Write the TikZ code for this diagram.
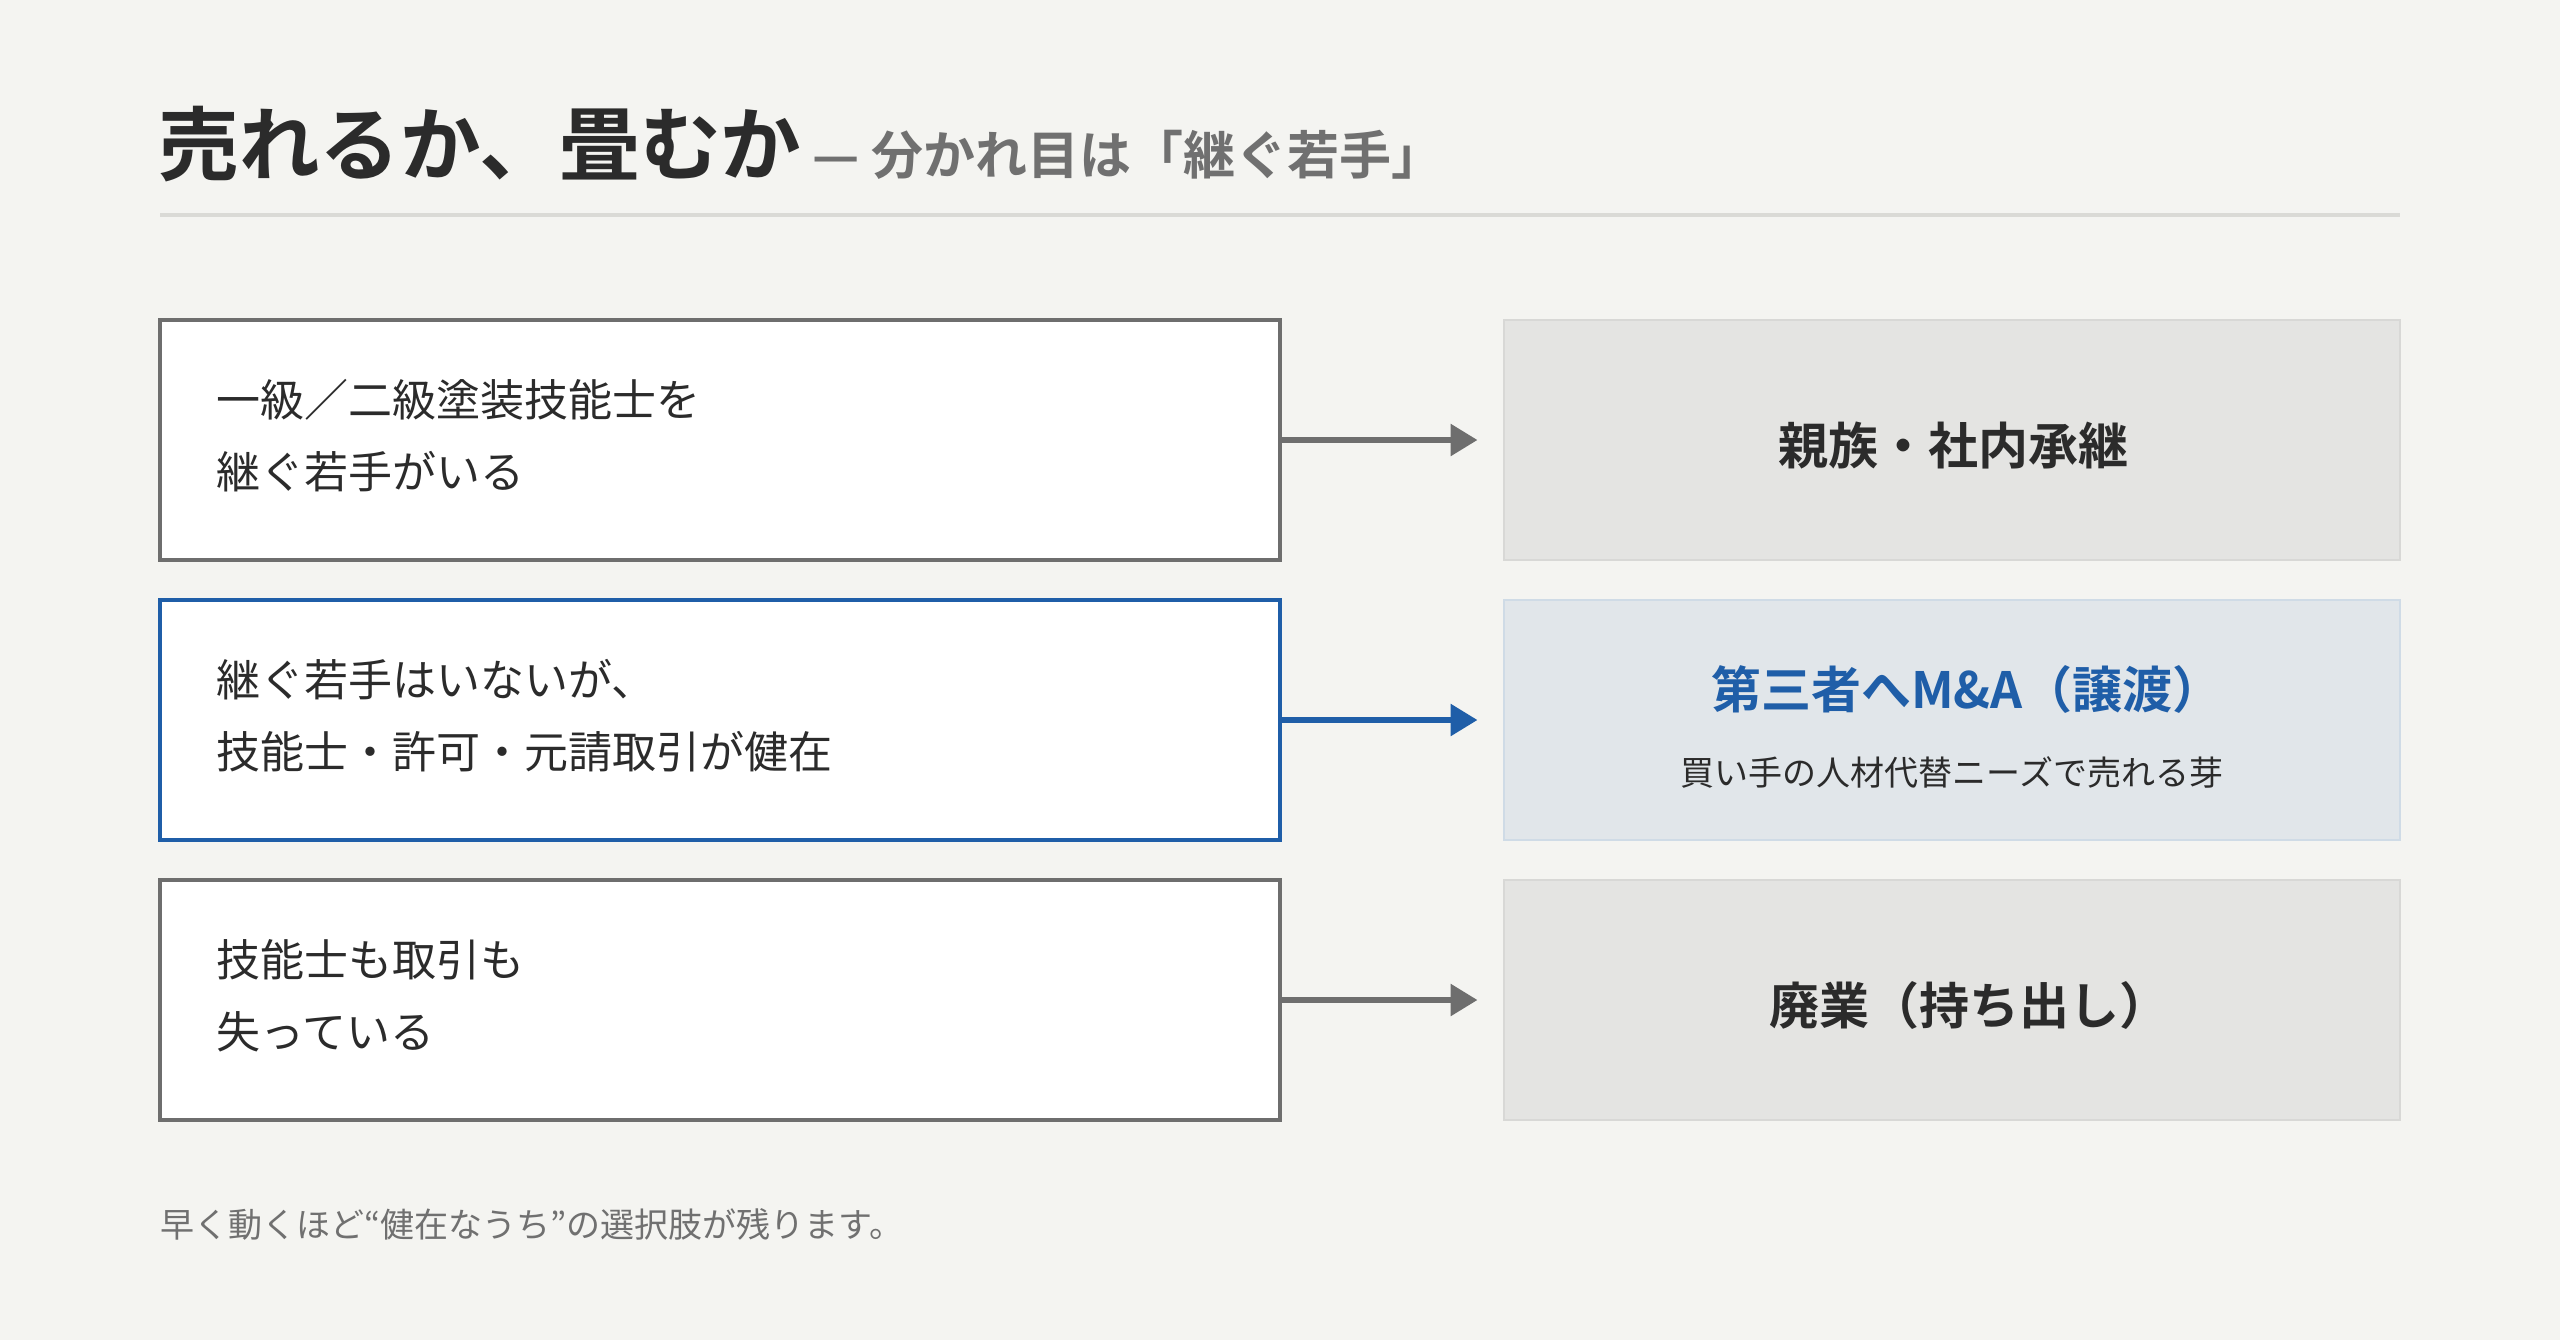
\documentclass[tikz,border=0pt]{standalone}
\usepackage{fontspec}
\setmainfont{Noto Sans CJK JP}[BoldFont={* Bold}]
\usetikzlibrary{arrows.meta}

\definecolor{bg}{HTML}{F4F4F1}
\definecolor{ink}{HTML}{2B2B2B}
\definecolor{mute}{HTML}{707070}
\definecolor{rule}{HTML}{DADAD6}
\definecolor{edge}{HTML}{6E6E6E}
\definecolor{accent}{HTML}{1F5EA8}
\definecolor{outfill}{HTML}{E4E4E2}
\definecolor{outline}{HTML}{D8D8D6}
\definecolor{keyfill}{HTML}{E1E6EA}
\definecolor{keyline}{HTML}{CFDBE6}

\tikzset{
  % one unit = one pixel of the 2560 x 1340 canvas, y pointing down
  x=0.5pt, y=-0.5pt,
  cond/.style={draw=edge, line width=2pt, fill=white, rectangle,
    minimum width=560pt, minimum height=120pt},
  condkey/.style={cond, draw=accent},
  condtxt/.style={anchor=west, inner sep=0pt, align=left, text=ink,
    font=\fontsize{22}{36}\selectfont},
  outcome/.style={draw=outline, line width=1pt, fill=outfill, rectangle,
    minimum width=448pt, minimum height=120pt},
  outkey/.style={outcome, draw=keyline, fill=keyfill},
  headtxt/.style={font=\fontsize{25}{30}\selectfont\bfseries, text=ink, inner sep=0pt},
  subtxt/.style={font=\fontsize{17}{20}\selectfont, text=ink, inner sep=0pt},
  flow/.style={draw=edge, line width=3pt, -{Triangle[length=13.5pt,width=15.5pt]}},
}

\begin{document}
\begin{tikzpicture}
\fill[bg] (0,0) rectangle (2560,1340);
\useasboundingbox (0,0) rectangle (2560,1340);

% heading
\node[anchor=base west, inner sep=0pt, text=ink, font=\fontsize{40.3}{44}\selectfont\bfseries]
  (title) at (158,174) {売れるか、畳むか};
\node[anchor=base west, inner sep=0pt, text=mute, font=\fontsize{26}{30}\selectfont\bfseries]
  (subtitle) at (812,174) {— 分かれ目は「継ぐ若手」};
\draw[rule, line width=2pt] (160,215) coordinate (ruleL) -- (2400,215) coordinate (ruleR);

% conditions
\node[cond] (c1) at (720,440) {};
\node[condtxt] (c1t) at (216,436) {一級／二級塗装技能士を\\継ぐ若手がいる};
\node[condkey] (c2) at (720,720) {};
\node[condtxt] (c2t) at (216,716) {継ぐ若手はいないが、\\技能士・許可・元請取引が健在};
\node[cond] (c3) at (720,1000) {};
\node[condtxt] (c3t) at (216,996) {技能士も取引も\\失っている};

% outcomes
\node[outcome] (o1) at (1951.5,440) {};
\node[headtxt] (o1t) at (1953,445) {親族・社内承継};
\node[outkey] (o2) at (1951.5,720) {};
\node[headtxt, text=accent] (o2t) at (1967,689) {第三者へM\&A（譲渡）};
\node[subtxt] (o2s) at (1952,772) {買い手の人材代替ニーズで売れる芽};
\node[outcome] (o3) at (1951.5,1000) {};
\node[headtxt] (o3t) at (1969,1005) {廃業（持ち出し）};

% connectors
\draw[flow] (c1.east) -- ([xshift=-12.5pt]o1.west);
\draw[flow, draw=accent] (c2.east) -- ([xshift=-12.5pt]o2.west);
\draw[flow] (c3.east) -- ([xshift=-12.5pt]o3.west);

% footnote
\node[anchor=base west, inner sep=0pt, text=mute, font=\fontsize{17}{20}\selectfont]
  (note) at (160,1237) {早く動くほど“健在なうち”の選択肢が残ります。};
\end{tikzpicture}
\end{document}
